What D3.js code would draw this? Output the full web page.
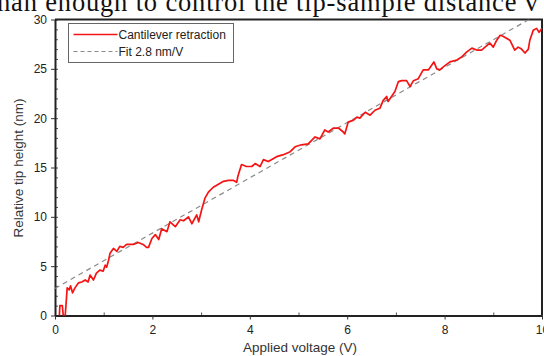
<!DOCTYPE html>
<html>
<head>
<meta charset="utf-8">
<script src="https://cdn.jsdelivr.net/npm/d3@7"></script>
<style>
  body { margin: 0; background: #fff; }
  svg { display: block; }
</style>
</head>
<body>
<script>
// voltage (V) and tip height (nm)
const voltage = [
  0.09, 0.1, 0.15, 0.17, 0.21, 0.25, 0.29, 0.32, 0.36, 0.41,
  0.48, 0.55, 0.62, 0.68, 0.72, 0.79, 0.85, 0.92, 0.99, 1.03,
  1.06, 1.1, 1.13, 1.2, 1.27, 1.33, 1.4, 1.47, 1.61, 1.71,
  1.81, 1.88, 1.92, 1.99, 2.06, 2.13, 2.19, 2.3, 2.36, 2.47,
  2.57, 2.64, 2.74, 2.81, 2.91, 2.95, 3.01, 3.08, 3.15, 3.25,
  3.32, 3.46, 3.56, 3.66, 3.73, 3.76, 3.83, 3.93, 4.04, 4.11,
  4.21, 4.28, 4.38, 4.55, 4.69, 4.83, 4.93, 5.06, 5.2, 5.34,
  5.44, 5.54, 5.61, 5.72, 5.82, 5.92, 5.95, 6.02, 6.13, 6.2,
  6.26, 6.37, 6.47, 6.57, 6.67, 6.74, 6.81, 6.84, 6.98, 7.05,
  7.12, 7.22, 7.29, 7.36, 7.46, 7.56, 7.67, 7.78, 7.84, 7.9,
  8.0, 8.11, 8.25, 8.35, 8.45, 8.56, 8.66, 8.76, 8.83, 8.93,
  9.0, 9.07, 9.14, 9.2, 9.27, 9.34, 9.41, 9.44, 9.51, 9.58,
  9.65, 9.72, 9.75, 9.82, 9.89, 9.94, 10.0,
];
const tipHeight = [
  0, 1.0, 1.0, 0, 0, 2.8, 2.6, 3.0, 2.3, 2.8,
  3.3, 3.4, 3.6, 3.4, 4.1, 3.6, 4.3, 4.6, 4.5, 5.1,
  4.9, 5.6, 6.3, 6.8, 6.5, 7.0, 6.9, 7.2, 7.2, 7.4,
  7.2, 6.9, 6.9, 7.8, 8.2, 7.7, 8.8, 8.5, 9.5, 9.0,
  9.7, 9.6, 10.0, 9.3, 10.2, 9.5, 10.7, 11.9, 12.5, 13.0,
  13.2, 13.6, 13.7, 13.7, 13.5, 14.2, 15.3, 15.1, 15.1, 15.4,
  15.1, 15.8, 15.6, 16.1, 16.3, 16.6, 17.1, 17.3, 17.4, 18.1,
  17.9, 18.8, 18.6, 19.0, 19.0, 18.6, 18.4, 19.6, 19.8, 20.1,
  20.0, 20.6, 20.3, 20.8, 21.0, 21.8, 22.2, 21.7, 22.7, 23.7,
  23.8, 23.8, 23.2, 23.8, 24.0, 24.9, 24.9, 25.7, 25.0, 24.9,
  25.3, 25.7, 25.9, 26.2, 26.7, 27.1, 26.9, 26.9, 27.2, 27.6,
  27.2, 27.9, 28.4, 28.3, 28.1, 27.9, 27.2, 26.9, 27.2, 27.0,
  26.6, 27.0, 27.9, 28.9, 29.1, 28.7, 29.1,
];

// linear fit: 2.8 nm/V
const fitSlope = 2.8;
const fitIntercept = 2.75;
const fitRange = [0, 10];

const xTicks = [0, 2, 4, 6, 8, 10];
const yTicks = [0, 5, 10, 15, 20, 25, 30];
const legendLabels = ["Cantilever retraction", "Fit 2.8 nm/V"];

const width = 544,
  height = 356;
const margin = { top: 19.5, right: 2, bottom: 40.5, left: 55 };

const svg = d3
  .select("body")
  .append("svg")
  .attr("width", width)
  .attr("height", height);

// clipped line of text from the page above the figure
svg
  .append("text")
  .attr("x", -3)
  .attr("y", 11)
  .attr("font-family", "Liberation Serif, Times New Roman, serif")
  .attr("font-size", 26.5)
  .attr("textLength", 541)
  .attr("fill", "#111")
  .text("han enough to control the tip-sample distance v");

const x = d3
  .scaleLinear()
  .domain([0, 10])
  .range([margin.left, width - margin.right]);

const y = d3
  .scaleLinear()
  .domain([0, 30])
  .range([height - margin.bottom, margin.top]);

svg
  .append("clipPath")
  .attr("id", "plot-clip")
  .append("rect")
  .attr("x", margin.left)
  .attr("y", margin.top)
  .attr("width", width - margin.right - margin.left)
  .attr("height", height - margin.bottom - margin.top);

const font = "Liberation Sans, Arial, sans-serif";

// minor ticks (inside)
svg
  .append("g")
  .attr("transform", `translate(${margin.left},0)`)
  .call(d3.axisRight(y).ticks(30).tickSize(3).tickFormat(""))
  .call((g) => g.select(".domain").remove())
  .selectAll("line")
  .attr("stroke", "#555");

svg
  .append("g")
  .attr("transform", `translate(0,${height - margin.bottom})`)
  .call(d3.axisTop(x).tickValues([1, 3, 5, 7, 9]).tickSize(3).tickFormat(""))
  .call((g) => g.select(".domain").remove())
  .selectAll("line")
  .attr("stroke", "#555");

// major axes
const yAxis = svg
  .append("g")
  .attr("transform", `translate(${margin.left},0)`)
  .call(d3.axisLeft(y).tickValues(yTicks).tickSize(4).tickPadding(4).tickSizeOuter(0));

const xAxis = svg
  .append("g")
  .attr("transform", `translate(0,${height - margin.bottom})`)
  .call(d3.axisBottom(x).tickValues(xTicks).tickSize(4).tickPadding(6).tickSizeOuter(0));

[xAxis, yAxis].forEach((g) => {
  g.select(".domain").attr("stroke", "#222").attr("stroke-width", 2);
  g.selectAll(".tick line").attr("stroke", "#333");
  g.selectAll(".tick text")
    .attr("font-family", font)
    .attr("font-size", 12)
    .attr("fill", "#222");
});

// frame top and right
svg
  .append("path")
  .attr(
    "d",
    `M${margin.left},${margin.top}H${width - margin.right}V${height - margin.bottom}`,
  )
  .attr("fill", "none")
  .attr("stroke", "#222")
  .attr("stroke-width", 2);

// fit line
svg
  .append("line")
  .attr("clip-path", "url(#plot-clip)")
  .attr("x1", x(fitRange[0]))
  .attr("y1", y(fitIntercept + fitSlope * fitRange[0]))
  .attr("x2", x(fitRange[1]))
  .attr("y2", y(fitIntercept + fitSlope * fitRange[1]))
  .attr("stroke", "#8a8a8a")
  .attr("stroke-width", 1.2)
  .attr("stroke-dasharray", "5,4");

// measured trace
const line = d3
  .line()
  .x((d) => x(d[0]))
  .y((d) => y(d[1]));

svg
  .append("path")
  .datum(d3.zip(voltage, tipHeight))
  .attr("clip-path", "url(#plot-clip)")
  .attr("fill", "none")
  .attr("stroke", "#f41414")
  .attr("stroke-width", 1.7)
  .attr("stroke-linejoin", "round")
  .attr("d", line);

// axis titles
svg
  .append("text")
  .attr("x", 300)
  .attr("y", 352)
  .attr("text-anchor", "middle")
  .attr("font-family", font)
  .attr("font-size", 13.5)
  .attr("fill", "#333")
  .text("Applied voltage (V)");

svg
  .append("text")
  .attr("transform", `translate(23,168) rotate(-90)`)
  .attr("text-anchor", "middle")
  .attr("font-family", font)
  .attr("font-size", 13.5)
  .attr("fill", "#333")
  .text("Relative tip height (nm)");

// legend
const legend = svg.append("g").attr("transform", "translate(68.5,23.5)");

legend
  .append("rect")
  .attr("width", 165)
  .attr("height", 39)
  .attr("fill", "#fff")
  .attr("stroke", "#666");

const legendStyles = [
  { stroke: "#f41414", dash: null, width: 1.7 },
  { stroke: "#8a8a8a", dash: "4,3", width: 1.2 },
];

const item = legend
  .selectAll("g.item")
  .data(legendLabels)
  .join("g")
  .attr("class", "item")
  .attr("transform", (d, i) => `translate(5,${11 + i * 17})`);

item
  .append("line")
  .attr("x1", 0)
  .attr("x2", 44)
  .attr("stroke", (d, i) => legendStyles[i].stroke)
  .attr("stroke-width", (d, i) => legendStyles[i].width)
  .attr("stroke-dasharray", (d, i) => legendStyles[i].dash);

item
  .append("text")
  .attr("x", 45)
  .attr("y", 4)
  .attr("font-family", font)
  .attr("font-size", 12)
  .attr("fill", "#222")
  .text((d) => d);
</script>
</body>
</html>
